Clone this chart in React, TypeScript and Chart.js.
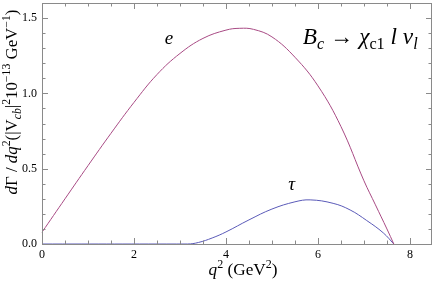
import React, { useEffect, useRef } from "react";
import { Chart, registerables } from "chart.js";

Chart.register(...registerables);

// ---- data ----
const E_Q2 = [0, 0.5, 1, 1.5, 2, 2.5, 3, 3.5, 4, 4.3, 4.6, 5, 5.5, 6, 6.5, 7, 7.25, 7.5, 7.65];
const E_RATE = [0.078, 0.3, 0.52, 0.735, 0.94, 1.125, 1.265, 1.365, 1.42, 1.432, 1.425, 1.375, 1.24, 1.05, 0.78, 0.42, 0.26, 0.1, 0];

const TAU_Q2 = [0, 3.16, 3.4, 3.7, 4, 4.5, 5, 5.5, 5.83, 6.33, 6.7, 7.06, 7.42, 7.65];
const TAU_RATE = [0, 0, 0.01, 0.04, 0.08, 0.16, 0.232, 0.28, 0.293, 0.27, 0.226, 0.156, 0.074, 0];

const X_TICKS = [0, 2, 4, 6, 8];
const Y_TICKS = [0, 0.5, 1.0, 1.5];
const X_MIN = 0;
const X_MAX = 8.48;
const Y_MIN = 0;
const Y_MAX = 1.6;
const X_MINOR_STEP = 0.5;
const Y_MINOR_STEP = 0.1;

const E_COLOR = "#a84a84";
const TAU_COLOR = "#5a5ab8";
const FRAME_COLOR = "#8a8a8a";
const SERIF = "'Liberation Serif', 'Times New Roman', Times, serif";

type Seg = { t: string; i?: boolean; s?: "sup" | "sub" };

function segFont(seg: Seg, size: number) {
  const sz = seg.s ? size * 0.7 : size;
  return `${seg.i ? "italic " : ""}${sz.toFixed(2)}px ${SERIF}`;
}

function richWidth(ctx: CanvasRenderingContext2D, segs: Seg[], size: number) {
  let total = 0;
  for (const sg of segs) {
    ctx.font = segFont(sg, size);
    total += ctx.measureText(sg.t).width;
  }
  return total;
}

function drawRich(ctx: CanvasRenderingContext2D, segs: Seg[], x: number, y: number, size: number, align: "left" | "center", targetWidth?: number) {
  let sz = size;
  if (targetWidth) {
    const w0 = richWidth(ctx, segs, size);
    sz = (size * targetWidth) / w0;
  }
  const total = richWidth(ctx, segs, sz);
  let cx = align === "center" ? x - total / 2 : x;
  ctx.textBaseline = "alphabetic";
  ctx.textAlign = "left";
  for (const sg of segs) {
    ctx.font = segFont(sg, sz);
    const dy = sg.s === "sup" ? -sz * 0.42 : sg.s === "sub" ? sz * 0.22 : 0;
    ctx.fillText(sg.t, cx, y + dy);
    cx += ctx.measureText(sg.t).width;
  }
}

const Y_TITLE: Seg[] = [
  { t: "d", i: true },
  { t: "Γ" },
  { t: " / " },
  { t: "dq", i: true },
  { t: "2", s: "sup" },
  { t: "(|V" },
  { t: "cb", i: true, s: "sub" },
  { t: "|" },
  { t: "2", s: "sup" },
  { t: "10" },
  { t: "−13", s: "sup" },
  { t: " GeV" },
  { t: "−1", s: "sup" },
  { t: ")" },
];

const X_TITLE: Seg[] = [
  { t: "q", i: true },
  { t: "2", s: "sup" },
  { t: " (GeV" },
  { t: "2", s: "sup" },
  { t: ")" },
];

const PROCESS: Seg[] = [
  { t: "B", i: true },
  { t: "c", i: true, s: "sub" },
  { t: " → " },
  { t: "χ", i: true },
  { t: "c1", s: "sub" },
  { t: " " },
  { t: "l", i: true },
  { t: " " },
  { t: "ν", i: true },
  { t: "l", i: true, s: "sub" },
];

const framePlugin = {
  id: "frameTicks",
  afterDatasetsDraw(chart: any) {
    const { ctx, chartArea: a, scales } = chart;
    const xs = scales.x;
    const ys = scales.y;
    ctx.save();
    ctx.strokeStyle = FRAME_COLOR;
    ctx.lineWidth = 1;
    ctx.strokeRect(Math.round(a.left) + 0.5, Math.round(a.top) + 0.5, Math.round(a.right - a.left) - 1, Math.round(a.bottom - a.top));
    ctx.beginPath();
    const nx = Math.floor((X_MAX - X_MIN) / X_MINOR_STEP + 1e-6);
    for (let k = 0; k <= nx; k++) {
      const v = X_MIN + k * X_MINOR_STEP;
      const major = X_TICKS.some((t) => Math.abs(t - v) < 1e-6);
      const len = major ? 6 : 3.5;
      const px = Math.round(xs.getPixelForValue(v)) + 0.5;
      ctx.moveTo(px, a.bottom);
      ctx.lineTo(px, a.bottom - len);
      ctx.moveTo(px, a.top);
      ctx.lineTo(px, a.top + len);
    }
    const ny = Math.floor((Y_MAX - Y_MIN) / Y_MINOR_STEP + 1e-6);
    for (let k = 0; k <= ny; k++) {
      const v = Y_MIN + k * Y_MINOR_STEP;
      const major = Y_TICKS.some((t) => Math.abs(t - v) < 1e-6);
      const len = major ? 6 : 3.5;
      const py = Math.round(ys.getPixelForValue(v)) + 0.5;
      ctx.moveTo(a.left, py);
      ctx.lineTo(a.left + len, py);
      ctx.moveTo(a.right, py);
      ctx.lineTo(a.right - len, py);
    }
    ctx.stroke();
    ctx.restore();
  },
  afterDraw(chart: any) {
    const { ctx, scales } = chart;
    const xs = scales.x;
    const ys = scales.y;
    ctx.save();
    ctx.fillStyle = "#000";
    // axis titles
    drawRich(ctx, X_TITLE, 243, 275, 14, "center", 69);
    ctx.save();
    ctx.translate(17, 102);
    ctx.rotate(-Math.PI / 2);
    drawRich(ctx, Y_TITLE, 0, 0, 15, "center", 185);
    ctx.restore();
    // curve labels
    drawRich(ctx, [{ t: "e", i: true }], xs.getPixelForValue(2.76), ys.getPixelForValue(1.33), 19, "center");
    drawRich(ctx, [{ t: "τ", i: true }], xs.getPixelForValue(5.43), ys.getPixelForValue(0.36), 19, "center");
    drawRich(ctx, PROCESS, xs.getPixelForValue(5.67), ys.getPixelForValue(1.33), 18, "left", 115);
    ctx.restore();
  },
};

function zeroPad(s: any) {
  s.paddingTop = 0;
  s.paddingBottom = 0;
  s.paddingLeft = 0;
  s.paddingRight = 0;
}

export default function App() {
  const ref = useRef<HTMLCanvasElement | null>(null);
  useEffect(() => {
    if (!ref.current) return;
    const chart = new Chart(ref.current, {
      type: "line",
      data: {
        datasets: [
          {
            label: "e",
            data: E_Q2.map((x, i) => ({ x, y: E_RATE[i] })),
            borderColor: E_COLOR,
            borderWidth: 1,
            pointRadius: 0,
            fill: false,
            tension: 0.4,
            clip: 4,
          },
          {
            label: "τ",
            data: TAU_Q2.map((x, i) => ({ x, y: TAU_RATE[i] })),
            borderColor: TAU_COLOR,
            borderWidth: 1,
            pointRadius: 0,
            fill: false,
            tension: 0.4,
            clip: 4,
          },
        ],
      },
      options: {
        animation: false,
        responsive: false,
        devicePixelRatio: 1,
        layout: { padding: { top: 3, right: 4, left: 0, bottom: 0 } },
        plugins: { legend: { display: false }, tooltip: { enabled: false } },
        scales: {
          x: {
            type: "linear",
            min: X_MIN,
            max: X_MAX,
            afterBuildTicks: (s: any) => {
              s.ticks = X_TICKS.map((v) => ({ value: v }));
            },
            afterFit: (s: any) => {
              s.height = 38;
              zeroPad(s);
            },
            ticks: {
              font: { family: SERIF, size: 12 },
              color: "#000",
              padding: 4,
              maxRotation: 0,
              callback: (v: any) => String(v),
            },
            grid: { display: false, drawTicks: false },
            border: { display: false },
          },
          y: {
            type: "linear",
            min: Y_MIN,
            max: Y_MAX,
            afterBuildTicks: (s: any) => {
              s.ticks = Y_TICKS.map((v) => ({ value: v }));
            },
            afterFit: (s: any) => {
              s.width = 42;
              zeroPad(s);
            },
            ticks: {
              font: { family: SERIF, size: 12 },
              color: "#000",
              padding: 5,
              callback: (v: any) => Number(v).toFixed(1),
            },
            grid: { display: false, drawTicks: false },
            border: { display: false },
          },
        },
      },
      plugins: [framePlugin],
    } as any);
    return () => chart.destroy();
  }, []);
  return (
    <div style={{ position: "fixed", left: 0, top: 0, width: 436, height: 282, background: "#fff" }}>
      <canvas ref={ref} width={436} height={282} style={{ display: "block", width: 436, height: 282 }} />
    </div>
  );
}
